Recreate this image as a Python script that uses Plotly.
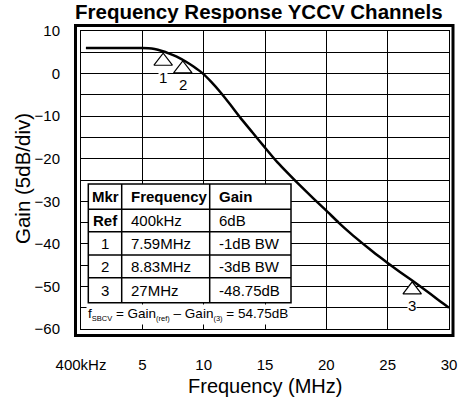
import plotly.graph_objects as go

# ---- data ----
freq_mhz = [0.4, 5.0, 5.5, 6.0, 6.6, 7.2, 7.8, 8.5, 9.2, 9.9, 10.6, 11.4, 12.2, 13.0, 14.0,
            15.0, 16.0, 17.0, 18.0, 19.0, 20.0, 21.0, 22.0, 23.0, 24.0, 25.0, 26.0, 27.0,
            28.0, 29.0, 30.0]
gain_db = [6.0, 6.0, 5.95, 5.75, 5.3, 4.7, 4.0, 2.9, 1.6, 0.1, -1.9, -4.5, -7.4, -10.4, -13.9,
           -17.4, -20.8, -23.8, -26.7, -29.5, -32.2, -35.0, -37.6, -40.0, -42.3, -44.5, -46.6,
           -48.6, -50.7, -52.9, -55.0]

mkr_labels = ["1", "2", "3"]
mkr_freq = [6.7, 8.3, 27.0]
mkr_gain = [2.9, 1.1, -50.8]

x_tickvals = [0, 5, 10, 15, 20, 25, 30]
x_ticktext = ["400kHz", "5", "10", "15", "20", "25", "30"]
y_tickvals = [10, 0, -10, -20, -30, -40, -50, -60]

table_header = ["Mkr", "Frequency", "Gain"]
table_rows = [
    ["Ref", "400kHz", "6dB"],
    ["1", "7.59MHz", "-1dB BW"],
    ["2", "8.83MHz", "-3dB BW"],
    ["3", "27MHz", "-48.75dB"],
]
SUB = '<sub><span style="font-size:7.5px">{}</span></sub>'
footnote = ("f" + SUB.format("SBCV") + " = Gain" + SUB.format("(ref)") + " – Gain"
            + SUB.format("(3)") + " = 54.75dB")

# ---- layout geometry ----
W, H = 459, 402
L, R, T, B = 81, 10, 31, 73
PW, PH = W - L - R, H - T - B
FONT = "Liberation Sans, Arial, Helvetica, sans-serif"
NARROW = "Liberation Sans Narrow, Arial Narrow, Liberation Sans, Arial, sans-serif"


def px(x):
    return (x - L) / PW


def py(y):
    return (H - B - y) / PH


fig = go.Figure()
fig.add_trace(go.Scatter(x=freq_mhz, y=gain_db, mode="lines",
                         line=dict(color="black", width=2.5, shape="spline", smoothing=0.6),
                         hoverinfo="skip", showlegend=False))
fig.add_trace(go.Scatter(x=mkr_freq, y=mkr_gain, mode="markers",
                         marker=dict(symbol="triangle-up", size=16, color="white",
                                     line=dict(color="black", width=1.2)),
                         hoverinfo="skip", showlegend=False))

shapes = []
annotations = []

# outer thick frame
shapes.append(dict(type="rect", xref="paper", yref="paper",
                   x0=px(75.5), x1=px(453), y0=py(335.5), y1=py(25.5),
                   line=dict(color="black", width=3), layer="above"))

# table
tx0, tx1 = 88.3, 291
col_edges = [tx0, 121.7, 209.7, tx1]
row_edges = [184, 209.3, 231.7, 255, 277.7, 302.7]
shapes.append(dict(type="rect", xref="paper", yref="paper",
                   x0=px(tx0), x1=px(tx1), y0=py(row_edges[-1]), y1=py(row_edges[0]),
                   fillcolor="white", line=dict(color="black", width=1.5), layer="above"))
for ce in col_edges[1:-1]:
    shapes.append(dict(type="line", xref="paper", yref="paper",
                       x0=px(ce), x1=px(ce), y0=py(row_edges[-1]), y1=py(row_edges[0]),
                       line=dict(color="black", width=1.5), layer="above"))
for re_ in row_edges[1:-1]:
    shapes.append(dict(type="line", xref="paper", yref="paper",
                       x0=px(tx0), x1=px(tx1), y0=py(re_), y1=py(re_),
                       line=dict(color="black", width=1.5), layer="above"))

all_rows = [table_header] + table_rows
for ri, row in enumerate(all_rows):
    yc = (row_edges[ri] + row_edges[ri + 1]) / 2
    for ci, txt in enumerate(row):
        bold = ri == 0 or (ci == 0 and ri == 1)
        fam = NARROW if bold else FONT
        t = f"<b>{txt}</b>" if bold else txt
        if ci == 0:
            annotations.append(dict(x=px((col_edges[0] + col_edges[1]) / 2), y=py(yc),
                                    xref="paper", yref="paper", text=t, showarrow=False,
                                    xanchor="center", yanchor="middle",
                                    font=dict(family=fam, size=15, color="black")))
        else:
            annotations.append(dict(x=px(col_edges[ci] + 7), y=py(yc),
                                    xref="paper", yref="paper", text=t, showarrow=False,
                                    xanchor="left", yanchor="middle",
                                    font=dict(family=fam, size=15, color="black")))

annotations.append(dict(x=px(86), y=py(314), xref="paper", yref="paper", text=footnote,
                        showarrow=False, xanchor="left", yanchor="middle", bgcolor="white",
                        borderpad=1, font=dict(family=FONT, size=13.5, color="black")))

# marker number labels
for lab, f, g in zip(mkr_labels, mkr_freq, mkr_gain):
    annotations.append(dict(x=f, y=g, xref="x", yref="y", text=lab, showarrow=False,
                            yshift=-16, xanchor="center", yanchor="middle", bgcolor="white",
                            borderpad=0, font=dict(family=FONT, size=15, color="black")))

# titles
annotations.append(dict(x=px(258.5), y=py(12), xref="paper", yref="paper",
                        text="<b>Frequency Response YCCV Channels</b>", showarrow=False,
                        xanchor="center", yanchor="middle",
                        font=dict(family=FONT, size=20.5, color="black")))
annotations.append(dict(x=px(265), y=py(386), xref="paper", yref="paper",
                        text="Frequency (MHz)", showarrow=False,
                        xanchor="center", yanchor="middle",
                        font=dict(family=FONT, size=20, color="black")))
annotations.append(dict(x=px(23), y=py(179), xref="paper", yref="paper",
                        text="Gain (5dB/div)", showarrow=False, textangle=-90,
                        xanchor="center", yanchor="middle",
                        font=dict(family=FONT, size=20.5, color="black")))

fig.update_layout(
    template="none",
    width=W, height=H, autosize=False,
    margin=dict(l=L, r=R, t=T, b=B, pad=0, autoexpand=False),
    paper_bgcolor="white", plot_bgcolor="white",
    font=dict(family=FONT, color="black"),
    shapes=shapes, annotations=annotations,
    showlegend=False,
)
fig.update_xaxes(range=[0, 30], tickvals=x_tickvals, ticktext=x_ticktext, automargin=False,
                 showgrid=True, gridcolor="black", gridwidth=1,
                 showline=True, mirror=True, linecolor="black", linewidth=1,
                 zeroline=False, ticks="", ticklabelstandoff=22,
                 tickfont=dict(family=FONT, size=15, color="black"), fixedrange=True)
fig.update_yaxes(range=[-60, 10], tickvals=y_tickvals, automargin=False,
                 showgrid=True, gridcolor="black", gridwidth=1,
                 minor=dict(dtick=5, tick0=0, showgrid=True, gridcolor="black", gridwidth=1),
                 showline=True, mirror=True, linecolor="black", linewidth=1,
                 zeroline=False, ticks="", ticklabelstandoff=17,
                 tickfont=dict(family=FONT, size=15, color="black"), fixedrange=True)

fig.write_html(
    "out.html",
    config={"displayModeBar": False, "responsive": False},
    post_script=("document.documentElement.style.overflow='hidden';"
                 "document.body.style.margin='0';document.body.style.overflow='hidden';"),
)
